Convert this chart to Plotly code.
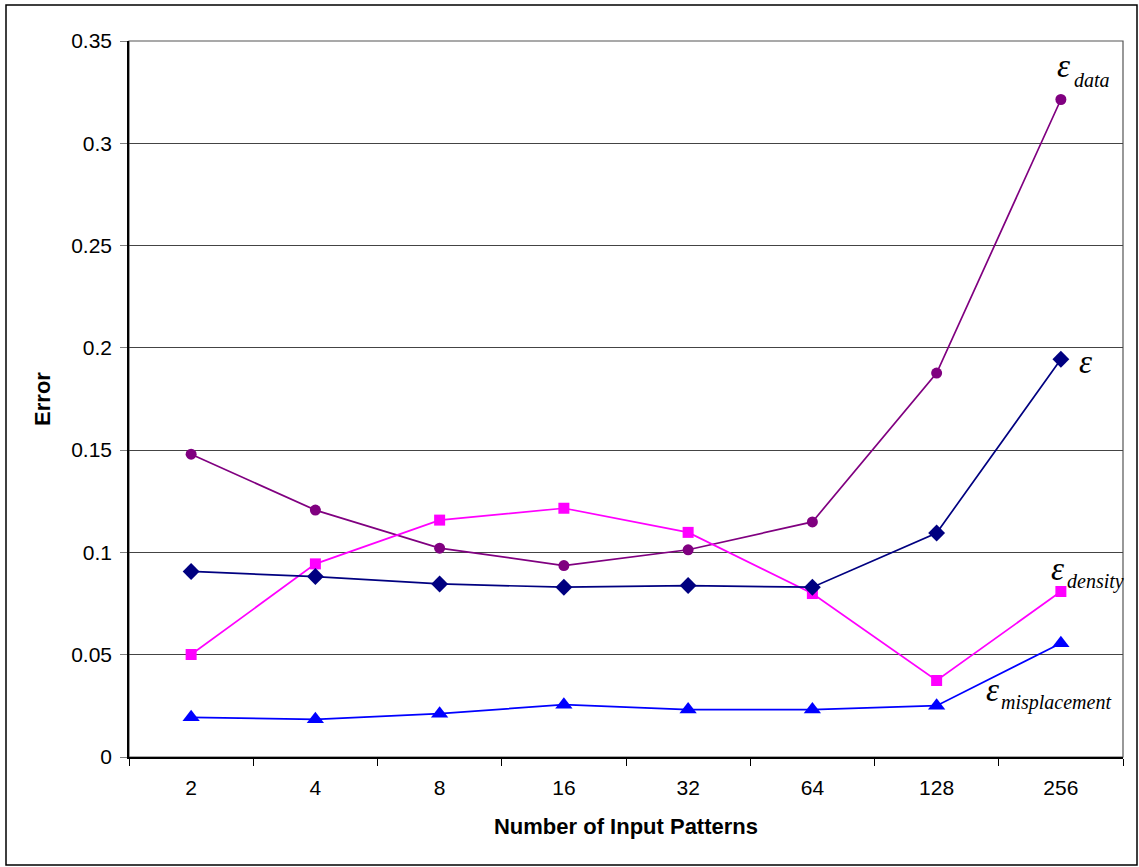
import plotly.graph_objects as go

categories = ["2", "4", "8", "16", "32", "64", "128", "256"]
eps_total = [0.0907, 0.0882, 0.0846, 0.0830, 0.0838, 0.0830, 0.1095, 0.1944]
eps_data = [0.1480, 0.1207, 0.1021, 0.0936, 0.1013, 0.1149, 0.1877, 0.3214]
eps_density = [0.0501, 0.0944, 0.1158, 0.1216, 0.1098, 0.0799, 0.0374, 0.0809]
eps_misplacement = [0.0194, 0.0184, 0.0212, 0.0256, 0.0232, 0.0232, 0.0251, 0.0556]
y_ticks = [0, 0.05, 0.1, 0.15, 0.2, 0.25, 0.3, 0.35]
y_tick_text = ["0", "0.05", "0.1", "0.15", "0.2", "0.25", "0.3", "0.35"]

W, H = 1139, 867
L, R, T, B = 129, 1123, 41, 757

def px(x):
    return (x - L) / (R - L)

def py(y):
    return (B - y) / (B - T)

fig = go.Figure()
fig.add_trace(go.Scatter(x=categories, y=eps_data, mode="lines+markers", name="data",
                         line=dict(color="#800080", width=1.7),
                         marker=dict(symbol="circle", size=11, color="#800080")))
fig.add_trace(go.Scatter(x=categories, y=eps_density, mode="lines+markers", name="density",
                         line=dict(color="#FF00FF", width=1.7),
                         marker=dict(symbol="square", size=11, color="#FF00FF")))
fig.add_trace(go.Scatter(x=categories, y=eps_total, mode="lines+markers", name="total",
                         line=dict(color="#000080", width=1.7),
                         marker=dict(symbol="diamond", size=13, color="#000080")))
fig.add_trace(go.Scatter(x=categories, y=eps_misplacement, mode="lines+markers", name="misplacement",
                         line=dict(color="#0000FF", width=1.7),
                         marker=dict(symbol="triangle-up", size=15, color="#0000FF")))

font_tick = dict(family="Liberation Sans, Arial", size=21, color="black")
font_title = dict(family="Liberation Sans, Arial", size=22, color="black")

fig.update_layout(
    width=W, height=H,
    margin=dict(l=L, r=W - R, t=T, b=H - B),
    paper_bgcolor="white", plot_bgcolor="white",
    showlegend=False,
    xaxis=dict(type="category", tickson="boundaries", ticks="outside", ticklen=7,
               tickcolor="black", tickwidth=1, showgrid=False,
               showline=True, linecolor="black", linewidth=2,
               tickfont=font_tick, ticklabelstandoff=11,
               title=dict(text="<b>Number of Input Patterns</b>", font=font_title,
                          standoff=20),
               range=[-0.5, 7.5]),
    yaxis=dict(range=[0, 0.35], tickvals=y_ticks, ticktext=y_tick_text,
               ticks="outside", ticklen=7, tickcolor="#808080",
               showgrid=True, gridcolor="#444444", gridwidth=1,
               showline=True, linecolor="black", linewidth=1.5,
               zeroline=False, tickfont=font_tick, ticklabelstandoff=4,
               title=dict(text="<b>Error</b>", font=font_title, standoff=14)),
)

# plot area border (top / right)
fig.add_shape(type="rect", xref="paper", yref="paper", x0=0, y0=0, x1=1, y1=1,
              line=dict(color="#555555", width=1.2), layer="below")
# outer chart border
fig.add_shape(type="rect", xref="paper", yref="paper",
              x0=px(6), x1=px(1137), y0=py(865), y1=py(5),
              line=dict(color="black", width=1.5))

eps_font = dict(family="Liberation Serif, Times New Roman", size=33, color="black")
sub_font = dict(family="Liberation Serif, Times New Roman", size=20, color="black")
labels = [
    # (subscript, eps left x, eps centre y, sub left x, sub centre y)
    ("data", 1056, 66, 1073, 80),
    ("", 1078, 362, 0, 0),
    ("density", 1050, 569, 1066, 581),
    ("misplacement", 985, 690, 1000, 702),
]
for sub, ex, ey, sx, sy in labels:
    fig.add_annotation(text="<i>ε</i>", xref="paper", yref="paper", x=px(ex), y=py(ey),
                       xanchor="left", yanchor="middle", showarrow=False, font=eps_font,
                       borderpad=0)
    if sub:
        fig.add_annotation(text="<i>" + sub + "</i>", xref="paper", yref="paper",
                           x=px(sx), y=py(sy), xanchor="left", yanchor="middle",
                           showarrow=False, font=sub_font, borderpad=0)

fig.write_html("out.html")
